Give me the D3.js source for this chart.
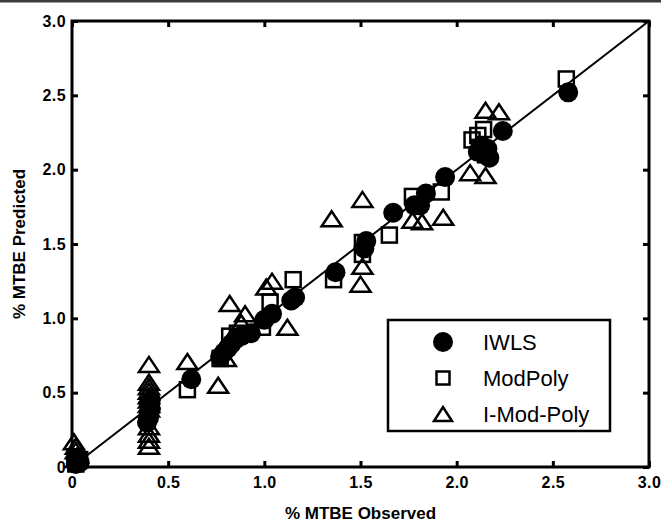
<!DOCTYPE html>
<html>
<head>
<meta charset="utf-8">
<script src="https://cdn.jsdelivr.net/npm/d3@7"></script>
<style>
  html, body { margin: 0; padding: 0; background: #fff; }
  svg { display: block; }
</style>
</head>
<body>
<svg id="chart" width="661" height="522"></svg>
<script>
// Observed vs predicted MTBE content for three calibration methods
const iwlsObs  = [0.02,0.03,0.04,0.02, 0.39,0.40,0.40,0.41,0.40,0.41, 0.62,0.77,0.79,0.81,0.83,0.85,0.88,0.93,1.00,1.04,1.14,1.16,1.37,1.52,1.53,1.67,1.78,1.81,1.84,1.94,2.11,2.13,2.15,2.16,2.17,2.24,2.58];
const iwlsPred = [0.02,0.04,0.03,0.05, 0.30,0.33,0.36,0.39,0.42,0.45, 0.59,0.74,0.77,0.80,0.83,0.86,0.88,0.90,0.99,1.03,1.12,1.14,1.31,1.47,1.52,1.71,1.76,1.76,1.84,1.95,2.12,2.16,2.10,2.14,2.08,2.26,2.52];

const modObs  = [0.02,0.04,0.40,0.40,0.60,0.77,0.82,0.86,0.99,1.03,1.15,1.36,1.51,1.51,1.65,1.77,1.92,2.08,2.11,2.14,2.12,2.15,2.57];
const modPred = [0.02,0.05,0.36,0.41,0.52,0.73,0.88,0.90,0.94,1.11,1.26,1.26,1.43,1.51,1.56,1.82,1.85,2.20,2.23,2.27,2.15,2.10,2.61];

const imodObs  = [0.01,0.02,0.02,0.03,0.02, 0.40,0.40,0.40,0.40,0.40,0.40,0.40,0.40,0.40,0.40,0.40,0.40, 0.60,0.76,0.80,0.82,0.90,0.88,1.01,1.04,1.12,1.35,1.51,1.51,1.50,1.77,1.82,1.93,2.07,2.15,2.15,2.22];
const imodPred = [0.17,0.14,0.11,0.08,0.05, 0.69,0.57,0.54,0.51,0.48,0.45,0.42,0.39,0.27,0.22,0.18,0.14, 0.71,0.55,0.73,1.10,1.03,0.97,1.21,1.25,0.94,1.67,1.80,1.35,1.23,1.66,1.65,1.68,1.98,1.96,2.40,2.39];

const tickValues = [0, 0.5, 1.0, 1.5, 2.0, 2.5, 3.0];
const tickLabels = ["0", "0.5", "1.0", "1.5", "2.0", "2.5", "3.0"];
const legendNames = ["IWLS", "ModPoly", "I-Mod-Poly"];
const xTitle = "% MTBE Observed";
const yTitle = "% MTBE Predicted";

const svg = d3.select("#chart");
const W = 661, H = 522;
const plotL = 72, plotR = 649, plotT = 21, plotB = 467;

const x = d3.scaleLinear().domain([0, 3]).range([plotL, plotR]);
const y = d3.scaleLinear().domain([0, 3]).range([plotB, plotT]);

// thin dark band along the top edge
svg.append("rect").attr("x", 0).attr("y", 0).attr("width", W).attr("height", 2.5).attr("fill", "#3c3c3c");

const fmt = d => tickLabels[tickValues.indexOf(d)];
const font = "'Liberation Sans', Arial, Helvetica, sans-serif";

function styleAxis(g) {
  g.select(".domain").remove();
  g.selectAll(".tick line").attr("stroke", "#000").attr("stroke-width", 3);
  g.selectAll(".tick text")
    .attr("fill", "#000")
    .style("font-family", font)
    .style("font-weight", "bold")
    .style("font-size", "16px")
    .style("letter-spacing", "0.4px");
}

svg.append("g").attr("transform", `translate(0,${plotB})`)
  .call(d3.axisBottom(x).tickValues(tickValues).tickFormat(fmt).tickSize(-6).tickPadding(10))
  .call(styleAxis);
svg.append("g").attr("transform", `translate(${plotL},0)`)
  .call(d3.axisLeft(y).tickValues(tickValues).tickFormat(fmt).tickSize(-6).tickPadding(6))
  .call(styleAxis);
svg.append("g").attr("transform", `translate(0,${plotT})`)
  .call(d3.axisTop(x).tickValues(tickValues).tickFormat("").tickSize(-6))
  .call(styleAxis);
svg.append("g").attr("transform", `translate(${plotR},0)`)
  .call(d3.axisRight(y).tickValues(tickValues).tickFormat("").tickSize(-6))
  .call(styleAxis);

// 1:1 reference line
svg.append("line")
  .attr("x1", x(0)).attr("y1", y(0)).attr("x2", x(3)).attr("y2", y(3))
  .attr("stroke", "#000").attr("stroke-width", 2);

const triPath = (w, h) => `M${-w/2},${h/2}L${w/2},${h/2}L0,${-h/2}Z`;

// I-Mod-Poly: open triangles
svg.append("g").selectAll("path").data(d3.range(imodObs.length)).join("path")
  .attr("d", triPath(20, 15))
  .attr("transform", i => `translate(${x(imodObs[i])},${y(imodPred[i])})`)
  .attr("fill", "none").attr("stroke", "#000").attr("stroke-width", 2.5).attr("stroke-linejoin", "miter");

// ModPoly: open squares
const sq = 15;
svg.append("g").selectAll("rect").data(d3.range(modObs.length)).join("rect")
  .attr("x", i => x(modObs[i]) - sq / 2)
  .attr("y", i => y(modPred[i]) - sq / 2)
  .attr("width", sq).attr("height", sq)
  .attr("fill", "none").attr("stroke", "#000").attr("stroke-width", 2.5);

// IWLS: filled circles
svg.append("g").selectAll("circle").data(d3.range(iwlsObs.length)).join("circle")
  .attr("cx", i => x(iwlsObs[i]))
  .attr("cy", i => y(iwlsPred[i]))
  .attr("r", 10)
  .attr("fill", "#000");

// plot frame
svg.append("rect")
  .attr("x", plotL).attr("y", plotT).attr("width", plotR - plotL).attr("height", plotB - plotT)
  .attr("fill", "none").attr("stroke", "#000").attr("stroke-width", 3);

// legend
const lg = svg.append("g");
lg.append("rect").attr("x", 388).attr("y", 320).attr("width", 222).attr("height", 111)
  .attr("fill", "#fff").attr("stroke", "#000").attr("stroke-width", 2.5);
const rowY = [342, 378, 414];
lg.append("circle").attr("cx", 443).attr("cy", rowY[0]).attr("r", 10).attr("fill", "#000");
lg.append("rect").attr("x", 443 - 6.5).attr("y", rowY[1] - 6.5).attr("width", 13).attr("height", 13)
  .attr("fill", "none").attr("stroke", "#000").attr("stroke-width", 2.5);
lg.append("path").attr("d", triPath(18, 14)).attr("transform", `translate(443,${rowY[2]})`)
  .attr("fill", "none").attr("stroke", "#000").attr("stroke-width", 2.5);
lg.selectAll("text").data(legendNames).join("text")
  .attr("x", 483).attr("y", (d, i) => rowY[i] + 8)
  .text(d => d)
  .style("font-family", font).style("font-size", "22px").attr("fill", "#000");

// axis titles
svg.append("text").attr("x", (plotL + plotR) / 2).attr("y", 519)
  .attr("text-anchor", "middle").text(xTitle)
  .style("font-family", font).style("font-weight", "bold").style("font-size", "17px");
svg.append("text")
  .attr("transform", `translate(25,${(plotT + plotB) / 2}) rotate(-90)`)
  .attr("text-anchor", "middle").text(yTitle)
  .style("font-family", font).style("font-weight", "bold").style("font-size", "17px");
</script>
</body>
</html>
